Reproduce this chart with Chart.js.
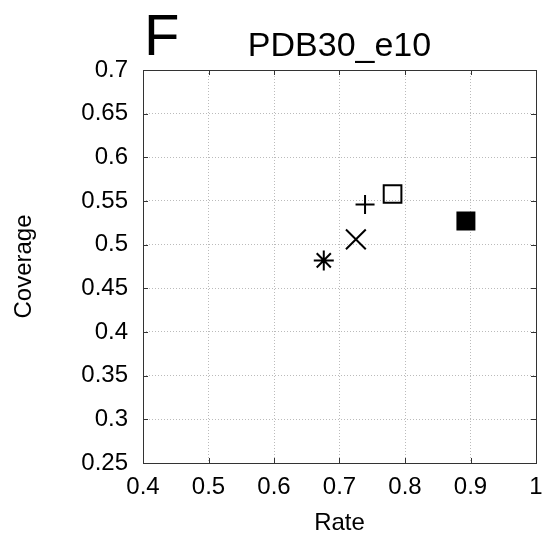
<!DOCTYPE html>
<html>
<head>
<meta charset="utf-8">
<script src="https://cdn.jsdelivr.net/npm/chart.js@4"></script>
<style>
  body { margin: 0; background: #fff; }
  canvas { display: block; }
</style>
</head>
<body>
<canvas id="chart" width="547" height="538"></canvas>
<script>
// Werte
const methods = ["asterisk", "x", "plus", "square", "filled square"];
const rates = [0.676, 0.725, 0.739, 0.781, 0.893];
const coverages = [0.482, 0.506, 0.546, 0.558, 0.527];

// Achsenbeschriftungen
const xTicks = [0.4, 0.5, 0.6, 0.7, 0.8, 0.9, 1];
const xTickLabels = ["0.4", "0.5", "0.6", "0.7", "0.8", "0.9", "1"];
const yTicks = [0.25, 0.3, 0.35, 0.4, 0.45, 0.5, 0.55, 0.6, 0.65, 0.7];
const yTickLabels = ["0.25", "0.3", "0.35", "0.4", "0.45", "0.5", "0.55", "0.6", "0.65", "0.7"];

const FONT = '"Liberation Sans", Arial, Helvetica, sans-serif';
Chart.defaults.font.family = FONT;
Chart.defaults.color = "#000";

// Marker-Stile (Chart.js pointStyles)
const markerStyle = {
  "asterisk":      { pointStyle: "star",     radius: 10,  fill: false },
  "x":             { pointStyle: "crossRot", radius: 14,  fill: false },
  "plus":          { pointStyle: "cross",    radius: 9.5, fill: false },
  "square":        { pointStyle: "rect",     radius: 12.5, fill: false },
  "filled square": { pointStyle: "rect",     radius: 12,  fill: true }
};

const datasets = methods.map((m, i) => {
  const s = markerStyle[m];
  return {
    label: m,
    data: [{ x: rates[i], y: coverages[i] }],
    pointStyle: s.pointStyle,
    pointRadius: s.radius,
    pointHoverRadius: s.radius,
    pointBorderWidth: 2,
    pointBorderColor: "#000",
    pointBackgroundColor: s.fill ? "#000" : "rgba(0,0,0,0)",
    showLine: false
  };
});

// Rahmen, Ticks nach innen, Titel und Buchstabe "F"
const framePlugin = {
  id: "frame",
  afterDraw(chart) {
    const ctx = chart.ctx;
    const a = chart.chartArea;
    const xs = chart.scales.x, ys = chart.scales.y;
    ctx.save();
    ctx.strokeStyle = "#333";
    ctx.lineWidth = 1;
    ctx.strokeRect(a.left + 0.5, a.top + 0.5, a.right - a.left, a.bottom - a.top);
    ctx.beginPath();
    xTicks.forEach(v => {
      const px = Math.round(xs.getPixelForValue(v)) + 0.5;
      ctx.moveTo(px, a.bottom); ctx.lineTo(px, a.bottom - 5);
      ctx.moveTo(px, a.top); ctx.lineTo(px, a.top + 5);
    });
    yTicks.forEach(v => {
      const py = Math.round(ys.getPixelForValue(v)) + 0.5;
      ctx.moveTo(a.left, py); ctx.lineTo(a.left + 5, py);
      ctx.moveTo(a.right, py); ctx.lineTo(a.right - 5, py);
    });
    ctx.stroke();

    ctx.fillStyle = "#000";
    ctx.textBaseline = "alphabetic";
    ctx.textAlign = "center";
    ctx.font = "34px " + FONT;
    ctx.fillText("PDB30_e10", (a.left + a.right) / 2, 56);
    ctx.textAlign = "left";
    ctx.font = "58px " + FONT;
    ctx.fillText("F", 144, 55);
    ctx.restore();
  }
};

new Chart(document.getElementById("chart"), {
  type: "scatter",
  data: { datasets: datasets },
  options: {
    responsive: false,
    animation: false,
    layout: { autoPadding: false, padding: { left: 0, right: 11, top: 70, bottom: 0 } },
    plugins: { legend: { display: false }, tooltip: { enabled: false } },
    scales: {
      x: {
        min: 0.4, max: 1,
        afterBuildTicks: s => { s.ticks = xTicks.map(v => ({ value: v })); },
        afterFit: s => { s.height = 75; s.paddingRight = 0; s.paddingLeft = 0; },
        ticks: {
          font: { size: 24 },
          padding: 10,
          maxRotation: 0,
          callback: (v, i) => xTickLabels[i]
        },
        grid: { color: "#bbb", drawTicks: false },
        border: { display: false, dash: [1, 2] },
        title: { display: true, text: "Rate", font: { size: 24 }, padding: { top: 0, bottom: 0 } }
      },
      y: {
        min: 0.25, max: 0.7,
        afterBuildTicks: s => { s.ticks = yTicks.map(v => ({ value: v })); },
        afterFit: s => { s.width = 143; },
        ticks: {
          font: { size: 24 },
          padding: 15,
          callback: (v, i) => yTickLabels[i]
        },
        grid: { color: "#bbb", drawTicks: false },
        border: { display: false, dash: [1, 2] },
        title: { display: true, text: "Coverage", font: { size: 24 }, padding: { top: 10, bottom: 0 } }
      }
    }
  },
  plugins: [framePlugin]
});
</script>
</body>
</html>
